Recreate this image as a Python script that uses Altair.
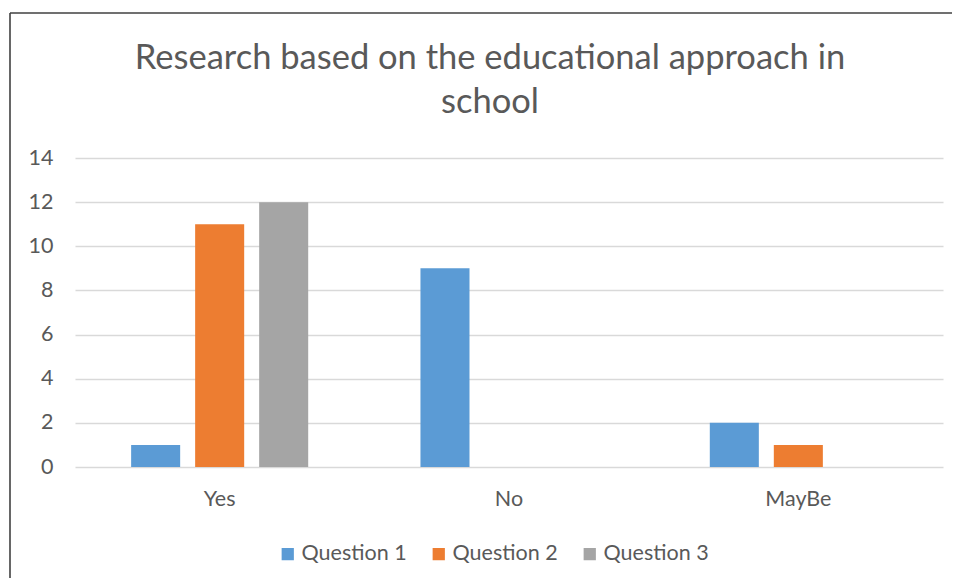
import altair as alt
import pandas as pd

categories = ["Yes", "No", "MayBe"]
series = ["Question 1", "Question 2", "Question 3"]
q1 = [1, 9, 2]
q2 = [11, 0, 1]
q3 = [12, 0, 0]
colors = ["#5B9BD5", "#ED7D31", "#A5A5A5"]
y_ticks = [0, 2, 4, 6, 8, 10, 12, 14]
title_lines = ["Research based on the educational approach in", "school"]

rows = []
for s, vals in zip(series, [q1, q2, q3]):
    for c, v in zip(categories, vals):
        rows.append({"Answer": c, "Series": s, "Count": v})
df = pd.DataFrame(rows)

FONT = "Lato"
GRAY = "#595959"

bars = alt.Chart(df).mark_bar().encode(
    x=alt.X("Answer:N", sort=categories,
            scale=alt.Scale(paddingInner=0.388, paddingOuter=0.194),
            axis=alt.Axis(title=None, labelAngle=0, domain=False, ticks=False,
                          grid=False,
                          labelPadding=21, labelFont=FONT, labelFontSize=21.5,
                          labelColor=GRAY)),
    xOffset=alt.XOffset("Series:N", sort=series,
                        scale=alt.Scale(paddingInner=0.234, paddingOuter=0)),
    y=alt.Y("Count:Q", scale=alt.Scale(domain=[0, 14], nice=False),
            axis=alt.Axis(title=None, values=y_ticks, domain=False, ticks=False,
                          grid=True, gridColor="#D9D9D9", gridWidth=1.3,
                          labelPadding=22, labelFont=FONT, labelFontSize=21.5,
                          labelColor=GRAY)),
    color=alt.Color("Series:N", sort=series,
                    scale=alt.Scale(domain=series, range=colors),
                    legend=alt.Legend(title=None, orient="none", direction="horizontal",
                                      legendX=202, legendY=385,
                                      symbolType="square", symbolSize=150,
                                      symbolStrokeWidth=0,
                                      labelFont=FONT, labelFontSize=21.5,
                                      labelColor=GRAY, columnPadding=21,
                                      labelOffset=3)),
)

frame_data = alt.Data(values=[{}])
left_edge = alt.Chart(frame_data).mark_rule(color="#404040", strokeWidth=1.6).encode(
    x=alt.value(-65), y=alt.value(-145), y2=alt.value(520))
top_edge = alt.Chart(frame_data).mark_rule(color="#404040", strokeWidth=1.6).encode(
    x=alt.value(-65), x2=alt.value(900), y=alt.value(-145))

title1 = alt.Chart(alt.Data(values=[{"t": title_lines[0]}])).mark_text(
    font=FONT, fontSize=34.5, color=GRAY, align="center", baseline="alphabetic"
).encode(text="t:N", x=alt.value(415), y=alt.value(-89))
title2 = alt.Chart(alt.Data(values=[{"t": title_lines[1]}])).mark_text(
    font=FONT, fontSize=34.5, color=GRAY, align="center", baseline="alphabetic"
).encode(text="t:N", x=alt.value(415), y=alt.value(-45))

chart = alt.layer(bars, left_edge, top_edge, title1, title2).properties(
    width=868,
    height=309,
    padding={"left": 67, "top": 150, "right": 9, "bottom": 111},
    autosize=alt.AutoSizeParams(type="none"),
    view=alt.ViewBackground(stroke="transparent", strokeWidth=0),
).configure_view(stroke="transparent", strokeWidth=0).configure(background="white")

chart.save("out.html", embed_options={"renderer": "svg", "actions": False})
